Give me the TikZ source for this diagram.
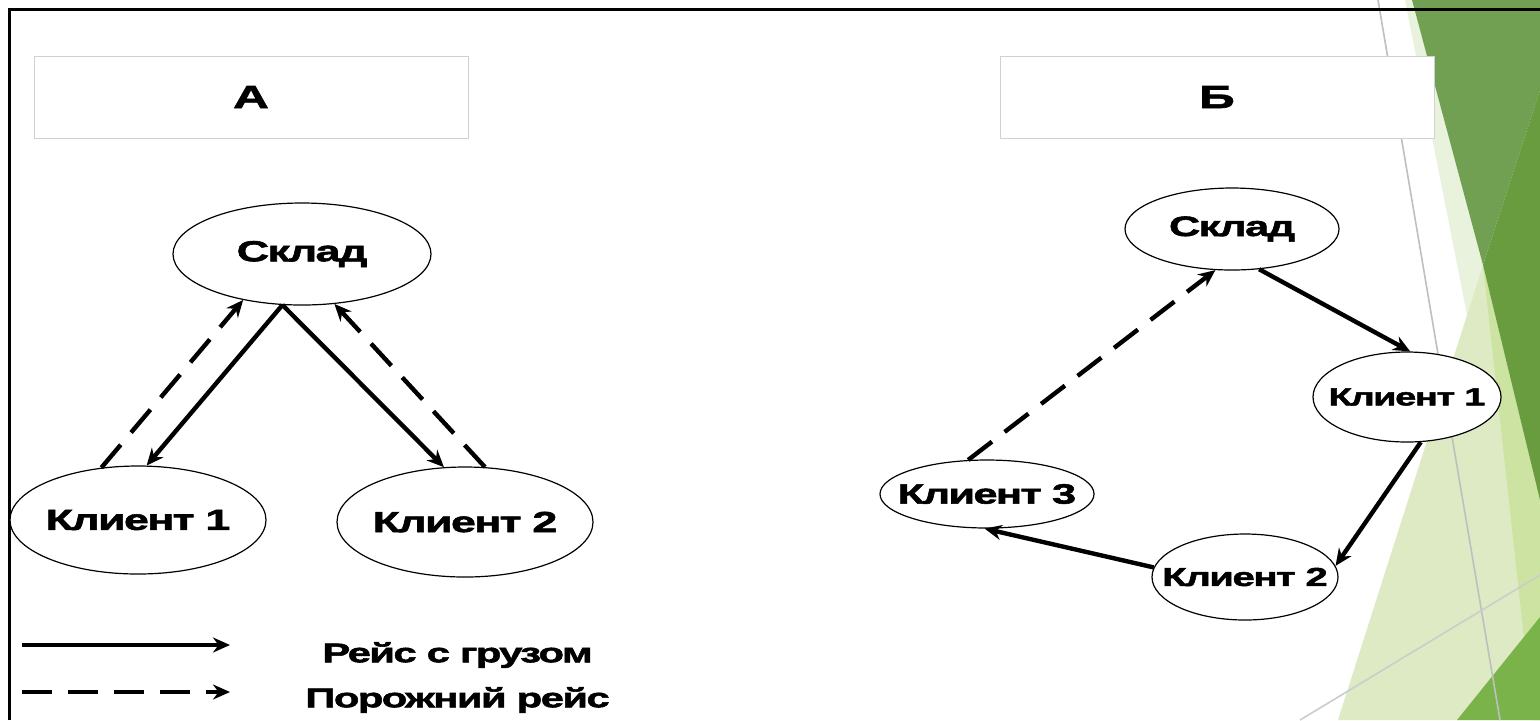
\documentclass[tikz,border=0pt]{standalone}
\usepackage{fontspec}
\newfontfamily\lblfont[FakeStretch=1.55,FakeBold=2,LetterSpace=-6]{Liberation Sans}
\usetikzlibrary{shapes.geometric,arrows.meta}
\definecolor{vertfonce}{HTML}{72A052}
\definecolor{vertsombre}{HTML}{699B3F}
\definecolor{vertpale}{HTML}{E9F2DC}
\definecolor{vertclair}{HTML}{DDEAC4}
\definecolor{vertmoyen}{HTML}{CDE3A1}
\definecolor{vertbas}{HTML}{7BB34B}
\newcommand{\etiq}[1]{\makebox[0pt]{#1}}
\begin{document}
\begin{tikzpicture}[x=0.5pt,y=-0.5pt,
  place/.style={ellipse,draw,line width=0.6pt,fill=white,inner sep=0pt,
    font=\lblfont\bfseries\fontsize{14.5}{16}\selectfont},
  petit/.style={font=\lblfont\bfseries\fontsize{#1}{15}\selectfont},
  titlebox/.style={draw=black!18,line width=0.5pt,fill=white,minimum width=217pt,
    minimum height=41pt,font=\lblfont\bfseries\fontsize{16}{18}\selectfont},
  legende/.style={anchor=west,inner sep=0pt,font=\lblfont\bfseries\fontsize{13.5}{15}\selectfont},
  gruz/.style={line width=2.2pt,-{Stealth[length=8.5pt,width=7.5pt]}},
  porozh/.style={gruz,dash pattern=on 15pt off 8pt}]
\fill[white] (0,0) rectangle (1540,720);
\useasboundingbox (0,0) rectangle (1540,720);
% decor a droite
\fill[vertpale] (1405,0) -- (1412,0) -- (1483,265) -- (1468,320) -- cycle;
\fill[vertclair] (1483,265) -- (1540,500) -- (1540,720) -- (1338,720) -- cycle;
\fill[vertmoyen] (1483,265) -- (1540,500) -- (1540,720) -- (1533,720) -- cycle;
\fill[vertfonce] (1412,0) -- (1540,0) -- (1540,90) -- (1483,265) -- cycle;
\fill[vertsombre] (1540,90) -- (1483,265) -- (1540,500) -- cycle;
\fill[vertbas] (1457,720) -- (1540,617) -- (1540,720) -- cycle;
\draw[black!25,line width=0.8pt] (1378,0) -- (1500,720);
\draw[black!20,line width=0.8pt] (1300,720) -- (1540,575);
\draw[line width=1.5pt] (9,720) -- (9,9) -- (1540,9);
% titres
\node[titlebox] (titreA) at (251,97) {А};
\node[titlebox] (titreB) at (1217,97) {Б};
% schema A
\node[place,minimum width=129pt,minimum height=51pt] (skladA) at (302,254) {\etiq{Склад}};
\node[place,minimum width=128pt,minimum height=54pt] (klientA1) at (138,520) {\etiq{Клиент 1}};
\node[place,minimum width=128pt,minimum height=55pt] (klientA2) at (465,522) {\etiq{Клиент 2}};
\draw[porozh] (klientA1.125) -- (skladA.-142);
\draw[gruz] (skladA.-111) -- (klientA1.81);
\draw[gruz] (skladA.-111) -- (klientA2.111);
\draw[porozh] (klientA2.70) -- (skladA.-57);
% schema B
\node[place,petit=14,minimum width=107pt,minimum height=41pt] (skladB) at (1232,229) {\etiq{Склад}};
\node[place,petit=12.3,minimum width=94pt,minimum height=45pt] (klientB1) at (1407,397) {\etiq{Клиент 1}};
\node[place,petit=13,minimum width=93pt,minimum height=43pt] (klientB2) at (1245,577) {\etiq{Клиент 2}};
\node[place,petit=14,minimum width=107pt,minimum height=34pt] (klientB3) at (987,494) {\etiq{Клиент 3}};
\draw[gruz] (skladB.-56) -- (klientB1.86);
\draw[gruz] (klientB1.-73) -- (klientB2.7);
\draw[gruz] (klientB2.174) -- (klientB3.-94);
\draw[porozh] (klientB3.119) -- (skladB.-112);
% legende
\coordinate (legG1) at (22,645);
\coordinate (legD1) at (230,645);
\coordinate (legG2) at (22,692);
\coordinate (legD2) at (230,692);
\draw[gruz] (legG1) -- (legD1);
\draw[porozh] (legG2) -- (legD2);
\node[legende] (txtgruz) at (322,655) {Рейс с грузом};
\node[legende] (txtporozh) at (305,700) {Порожний рейс};
\end{tikzpicture}
\end{document}
